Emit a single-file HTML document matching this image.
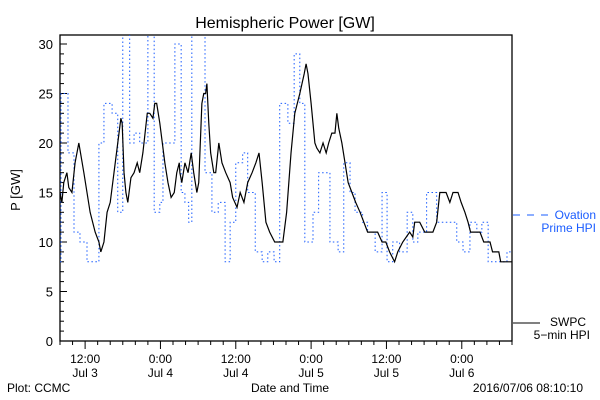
<!DOCTYPE html>
<html><head><meta charset="utf-8"><style>
body{margin:0;background:#fff;}
svg{display:block;font-family:"Liberation Sans",sans-serif;}
</style></head><body>
<svg id="chart" width="600" height="400">
<rect width="600" height="400" fill="#fff"/>
<text x="285" y="28" text-anchor="middle" font-size="16">Hemispheric Power [GW]</text>
<g id="axes"></g>
<g id="series"></g>
<text transform="translate(20,190) rotate(-90)" text-anchor="middle" font-size="13">P [GW]</text>
<text x="290" y="392" text-anchor="middle" font-size="12">Date and Time</text>
<text x="7" y="392" font-size="12">Plot: CCMC</text>
<text x="583" y="392" text-anchor="end" font-size="12">2016/07/06 08:10:10</text>
<g>
<line x1="513" y1="215" x2="550" y2="215" stroke="#1a5cff" stroke-width="1" stroke-dasharray="7,7"/>
<text x="596" y="219" text-anchor="end" font-size="12" fill="#1a5cff">Ovation</text>
<text x="596" y="232" text-anchor="end" font-size="12" fill="#1a5cff">Prime HPI</text>
</g>
<g>
<line x1="513" y1="323" x2="540" y2="323" stroke="#000" stroke-width="1"/>
<text x="586" y="326" text-anchor="end" font-size="12">SWPC</text>
<text x="590" y="339" text-anchor="end" font-size="12">5−min HPI</text>
</g>
</svg>
<script>
// hours since 2016-07-03 08:00
const swpcHours=[0,0.3,0.6,1.1,1.4,1.9,2.4,3.0,3.8,4.8,5.6,6.2,6.5,7.0,7.5,8.0,8.6,9.2,9.7,9.9,10.2,10.5,10.8,11.3,11.8,12.3,12.7,13.2,13.9,14.3,14.8,15.1,15.4,15.9,16.7,17.2,17.7,18.2,18.6,19.0,19.1,19.4,19.9,20.4,20.9,21.3,21.8,22.1,22.6,22.9,23.2,23.4,23.7,24.0,24.5,24.8,25.3,25.8,26.4,27.1,27.5,28.2,28.7,29.3,29.9,30.6,31.2,31.7,32.2,32.8,33.4,34.2,35.5,36.1,36.8,37.4,38.2,38.9,39.2,39.5,40.0,40.6,40.9,41.4,41.9,42.4,42.8,43.3,43.8,44.1,44.4,44.9,45.4,45.9,46.5,47.1,47.8,48.4,49.0,50.6,51.3,51.9,52.5,53.3,53.8,54.6,55.7,56.2,56.5,57.3,58.1,59.4,60.0,60.5,61.5,62.1,62.6,63.4,63.9,64.5,65.0,65.4,66.9,67.5,68.5,68.9,69.9,70.2,72.0];
const swpcValues=[15,14,16,17,15.5,15,18,20,17,13,11,10,9,10,13,14,17,20,22.5,22,17,15,14,16.5,17,18,17,19,23,23,22.5,24,24,22,18,16,14.5,15,17,18,17,16,18,17,19,17,15,16,24,25,25,26,22,19,17,17,20,18,17,16,14.5,13.5,15,14,16,17,18,19,16,12,11,10,10,13,19,23,25,27,28,27,24,20,19.5,19,20,19,20,21,21,23,21.5,20,18,16,15,14,13,12,11,11,10,10,9,8,9,10,11,10.5,12,12,11,11,12,15,15,14,15,15,14,13,12,11,11,10,10,9,9,8,8];
const ovStartHours=[0,0.16,1.27,2.23,3.18,4.3,6.2,7.0,8.3,9.2,10.0,11.1,11.8,12.7,14.0,15.0,15.9,16.4,18.3,19.3,19.9,20.5,21.0,23.1,24.2,25.2,26.3,27.1,28.0,29.1,29.9,31.1,32.2,33.1,34.1,35.0,36.3,37.3,38.2,39.0,40.3,41.2,43.0,44.3,45.2,46.2,47.0,48.2,49.0,50.2,51.3,52.1,53.0,54.1,55.3,56.2,57.0,58.4,60.0,63.2,64.2,65.3,66.4,67.2,68.2,71.2];
const ovValues=[8,25,19,11,10,8,20,24,23,13,32,20,21,20,32,13,14,20,30,15,14,12,32,17,13,14,8,12,18,19,15,9,8,9,8,24,22,29,24,10,13,17,10,9,18,15,13,12,11,9,15,8,10,9,13,10,11,15,12,10,9,12,11,12,8,9];
const ovEndHour=72;
const yTicks=[0,5,10,15,20,25,30];
const xTickHours=[4,16,28,40,52,64];
const xTickLabels=[["12:00","Jul 3"],["0:00","Jul 4"],["12:00","Jul 4"],["0:00","Jul 5"],["12:00","Jul 5"],["0:00","Jul 6"]];

const NS="http://www.w3.org/2000/svg";
const L=60,R=512,T=35,B=341,Y0=341,YPER=9.9,HMAX=72;
const xs=h=>L+(R-L)*h/HMAX;
const ys=v=>Y0-v*YPER;
function mk(tag,attrs,parent){const e=document.createElementNS(NS,tag);for(const k in attrs)e.setAttribute(k,attrs[k]);parent.appendChild(e);return e;}
const axes=document.getElementById('axes'),series=document.getElementById('series');
const frame=mk('rect',{x:L,y:T,width:R-L,height:B-T,fill:'none',stroke:'#000','stroke-width':1.3},axes);


for(let v=0;v<=30;v++){
  const y=ys(v),maj=v%5===0;
  const t=mk('line',{x1:L,x2:L+(maj?7:4),y1:y,y2:y,stroke:'#000'},axes);
  
  
}
yTicks.forEach(v=>{
  const t=mk('text',{x:53,y:ys(v)+5,'text-anchor':'end','font-size':13},axes);
  t.textContent=v;
  
  
});
for(let h=0;h<=HMAX;h+=2){
  const maj=xTickHours.includes(h);
  const t=mk('line',{x1:xs(h),x2:xs(h),y1:B,y2:B+(maj?8:4),stroke:'#000'},axes);
  
  
}
xTickHours.forEach((h,i)=>{
  const t=mk('text',{x:xs(h),y:363,'text-anchor':'middle','font-size':12},axes);
  t.textContent=xTickLabels[i][0];
  
  
  const d=mk('text',{x:xs(h),y:377,'text-anchor':'middle','font-size':12},axes);
  d.textContent=xTickLabels[i][1];
  
  
});
const clip=mk('clipPath',{id:'pc'},series);
mk('rect',{x:L,y:T,width:R-L,height:B-T},clip);
// ovation step line
let pts=[];
ovStartHours.forEach((h,i)=>{
  const end=i+1<ovStartHours.length?ovStartHours[i+1]:ovEndHour;
  pts.push(xs(h)+','+ys(ovValues[i]));pts.push(xs(end)+','+ys(ovValues[i]));
});
const ov=mk('polyline',{points:pts.join(' '),fill:'none',stroke:'#1a5cff','stroke-width':1,'stroke-dasharray':'1.5,2.5','clip-path':'url(#pc)'},series);


const sw=mk('polyline',{points:swpcHours.map((h,i)=>xs(h)+','+ys(swpcValues[i])).join(' '),fill:'none',stroke:'#000','stroke-width':1.2,'clip-path':'url(#pc)'},series);


</script>
</body></html>
